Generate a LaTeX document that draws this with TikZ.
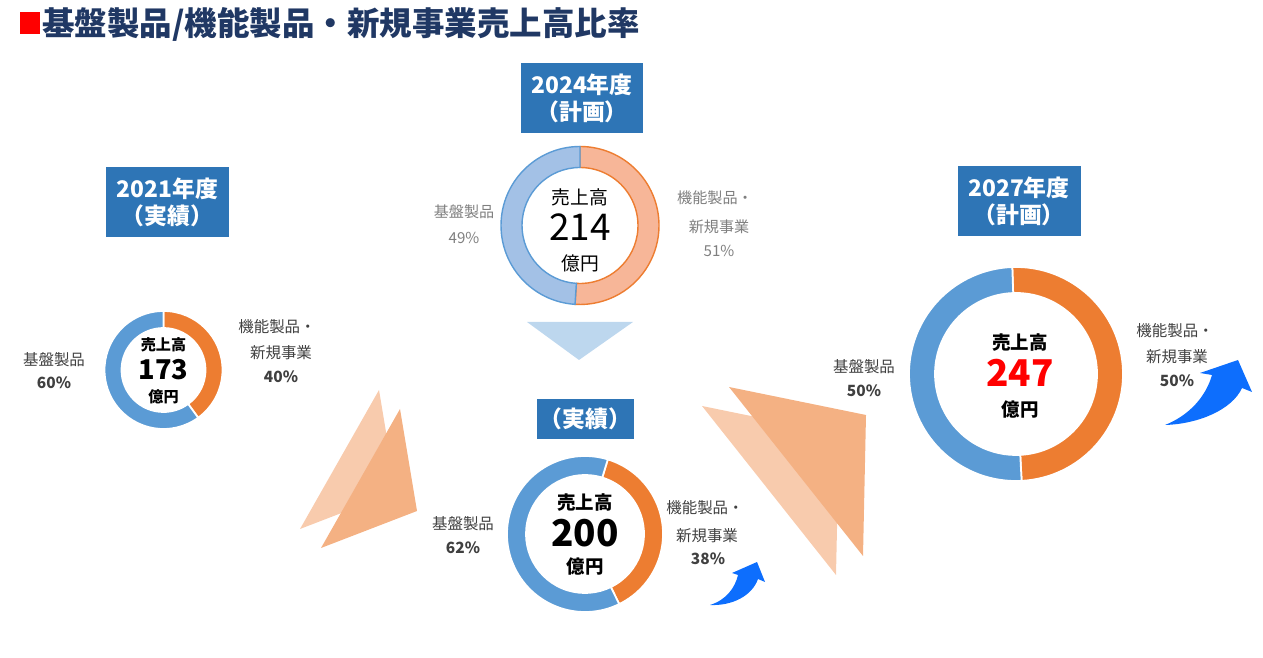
\documentclass[tikz,border=0pt]{standalone}
\usepackage{fontspec}
\setmainfont{Noto Sans CJK JP}
\usepackage{xcolor}
\usetikzlibrary{positioning, calc}

\definecolor{titleblue}{HTML}{203864}
\definecolor{hdrblue}{HTML}{2E75B6}
\definecolor{donutblue}{HTML}{5B9BD5}
\definecolor{donutor}{HTML}{ED7D31}
\definecolor{paleblue}{HTML}{A3C1E6}
\definecolor{paleor}{HTML}{F7B698}
\definecolor{downblue}{HTML}{BDD7EE}
\definecolor{triolight}{HTML}{F8CBAD}
\definecolor{triodark}{HTML}{F4B183}
\definecolor{arrowblue}{HTML}{0D6EFD}
\definecolor{lblgrey}{HTML}{404040}
\definecolor{lblpale}{HTML}{7F7F7F}

\begin{document}
\begin{tikzpicture}[x=0.02cm, y=0.02cm]
        \tikzset{hdr/.style={fill=hdrblue,text=white,font=\fontsize{13}{15.5}\selectfont\bfseries,align=center,inner sep=0,minimum width=2.46cm,minimum height=1.4cm}}
        \tikzset{segblue/.style={fill=donutblue,draw=white,line width=1pt}}
        \tikzset{segor/.style={fill=donutor,draw=white,line width=1pt}}
        \tikzset{paleseg/.style={fill=paleblue,draw=donutblue,line width=0.8pt}}
        \tikzset{paleor/.style={fill=paleor,draw=donutor,line width=0.8pt}}
        \tikzset{lbl/.style={text=lblgrey,font=\fontsize{8.8}{10}\selectfont,inner sep=0}}
        \tikzset{pct/.style={text=lblgrey,font=\fontsize{8.8}{10}\selectfont\bfseries,inner sep=0}}
        \tikzset{lblp/.style={text=lblpale,font=\fontsize{8.6}{10}\selectfont,inner sep=0}}
        \tikzset{ctr/.style={font=\fontsize{10.5}{12}\selectfont\bfseries,inner sep=0}}
        \tikzset{upar/.style={fill=arrowblue}}
        \useasboundingbox (0,0) rectangle (1263,658);

        % title
        \fill[red] (20,624) rectangle (40,646);
        \node[anchor=west,inner sep=0,text=titleblue,font=\fontsize{18.5}{20}\selectfont\bfseries] (ttl) at (42,634) {基盤製品/機能製品・新規事業売上高比率};

        % headers
        \node[hdr] (h21) at (167.5,456) {2021年度\\（実績）};
        \node[hdr] (h24) at (582,559.5) {2024年度\\（計画）};
        \node[hdr,minimum width=1.94cm,minimum height=0.8cm] (h20) at (585.5,239) {（実績）};
        \node[hdr] (h27) at (1019,456.5) {2027年度\\（計画）};

        % triangles
        \fill[triolight] (379,268) -- (300,129) -- (396,166) -- cycle;
        \fill[triodark] (400,249) -- (321,110) -- (417,147) -- cycle;
        \fill[triolight] (702,252) -- (839,224) -- (836,83) -- cycle;
        \fill[triodark] (729,271) -- (866,243) -- (863,102) -- cycle;
        \fill[downblue] (527,336) -- (633,336) -- (579,298) -- cycle;

        % 2021
        \coordinate (c21) at (163.5,288);
        \path[segor] ([shift={(90:59)}]c21) arc[start angle=90,end angle=-54,radius=59] -- ([shift={(-54:42)}]c21) arc[start angle=-54,end angle=90,radius=42] -- cycle;
        \path[segblue] ([shift={(-54:59)}]c21) arc[start angle=-54,end angle=-270,radius=59] -- ([shift={(-270:42)}]c21) arc[start angle=-270,end angle=-54,radius=42] -- cycle;
        \node[ctr,font=\fontsize{8.6}{10}\selectfont\bfseries] (s21) at (163.5,313) {売上高};
        \node[ctr,font=\fontsize{15.5}{17}\selectfont\bfseries] (v21) at (163.5,288) {173};
        \node[ctr,font=\fontsize{8.6}{10}\selectfont\bfseries] (u21) at (163.5,261) {億円};
        \node[lbl] (k21) at (54,298) {基盤製品};
        \node[pct] (k21p) at (54,275) {60\%};
        \node[lbl] (f21a) at (277,331) {機能製品・};
        \node[lbl] (f21b) at (281,305) {新規事業};
        \node[pct] (f21p) at (281,281) {40\%};

        % 2024
        \coordinate (c24) at (580,432.5);
        \path[paleor] ([shift={(90:79)}]c24) arc[start angle=90,end angle=-93.6,radius=79] -- ([shift={(-93.6:58)}]c24) arc[start angle=-93.6,end angle=90,radius=58] -- cycle;
        \path[paleseg] ([shift={(-93.6:79)}]c24) arc[start angle=-93.6,end angle=-270,radius=79] -- ([shift={(-270:58)}]c24) arc[start angle=-270,end angle=-93.6,radius=58] -- cycle;
        \node[inner sep=0,font=\fontsize{10.7}{12}\selectfont] (s24) at (580,461) {売上高};
        \node[inner sep=0,font=\fontsize{21}{23}\selectfont] (v24) at (580,431) {214};
        \node[inner sep=0,font=\fontsize{10.7}{12}\selectfont] (u24) at (580,395) {億円};
        \node[lblp] (k24) at (464,446) {基盤製品};
        \node[lblp] (k24p) at (464,420) {49\%};
        \node[lblp] (f24a) at (715,460) {機能製品・};
        \node[lblp] (f24b) at (719,431) {新規事業};
        \node[lblp] (f24p) at (719,407) {51\%};

        % 2024 actual
        \coordinate (c20) at (585,124);
        \path[segor] ([shift={(73:78)}]c20) arc[start angle=73,end angle=-64,radius=78] -- ([shift={(-64:59)}]c20) arc[start angle=-64,end angle=73,radius=59] -- cycle;
        \path[segblue] ([shift={(-64:78)}]c20) arc[start angle=-64,end angle=-287,radius=78] -- ([shift={(-287:59)}]c20) arc[start angle=-287,end angle=-64,radius=59] -- cycle;
        \node[ctr] (s20) at (585,155) {売上高};
        \node[ctr,font=\fontsize{21}{23}\selectfont\bfseries] (v20) at (585,125) {200};
        \node[ctr] (u20) at (585,91) {億円};
        \node[lbl] (k20) at (463,134) {基盤製品};
        \node[pct] (k20p) at (463,110) {62\%};
        \node[lbl] (f20a) at (705,150) {機能製品・};
        \node[lbl] (f20b) at (707,122) {新規事業};
        \node[pct] (f20p) at (708,99) {38\%};
        \fill[upar] (710,53) .. controls (726,58) and (735,70) .. (738,83) -- (732,85) -- (757,96) -- (765,76) -- (758,79) .. controls (752,62) and (732,52) .. cycle;

        % 2027
        \coordinate (c27) at (1016,284);
        \path[segor] ([shift={(92:107)}]c27) arc[start angle=92,end angle=-87,radius=107] -- ([shift={(-87:81)}]c27) arc[start angle=-87,end angle=92,radius=81] -- cycle;
        \path[segblue] ([shift={(-87:107)}]c27) arc[start angle=-87,end angle=-268,radius=107] -- ([shift={(-268:81)}]c27) arc[start angle=-268,end angle=-87,radius=81] -- cycle;
        \node[ctr] (s27) at (1020,315) {売上高};
        \node[ctr,text=red,font=\fontsize{21}{23}\selectfont\bfseries] (v27) at (1020,285) {247};
        \node[ctr] (u27) at (1020,248) {億円};
        \node[lbl] (k27) at (864,291) {基盤製品};
        \node[pct] (k27p) at (864,267) {50\%};
        \node[lbl] (f27a) at (1175,327) {機能製品・};
        \node[lbl] (f27b) at (1177,301) {新規事業};
        \node[pct] (f27p) at (1177,277) {50\%};
        \fill[upar] (1165,233) .. controls (1190,243) and (1206,262) .. (1212,283) -- (1200,285) -- (1238,298) -- (1252,266) -- (1242,270) .. controls (1232,248) and (1198,234) .. cycle;

    \end{tikzpicture}
\end{document}
